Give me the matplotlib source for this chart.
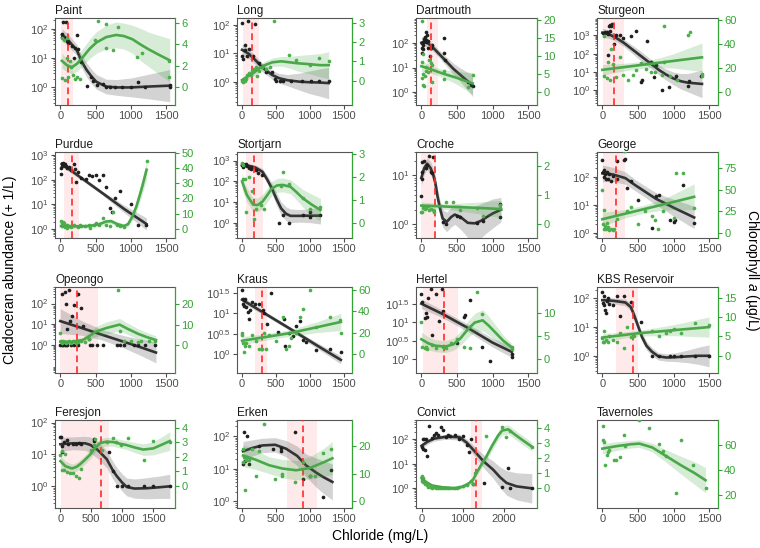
import numpy as np
import matplotlib
matplotlib.use('Agg')
import matplotlib.pyplot as plt
from matplotlib.ticker import FixedLocator, FixedFormatter, NullFormatter

plt.rcParams['font.family'] = ['Liberation Sans', 'DejaVu Sans']
plt.rcParams['mathtext.fontset'] = 'custom'
plt.rcParams['mathtext.rm'] = 'Liberation Sans'
plt.rcParams['mathtext.it'] = 'Liberation Sans:italic'

lakes = ['Paint', 'Long', 'Dartmouth', 'Sturgeon',
         'Purdue', 'Stortjarn', 'Croche', 'George',
         'Opeongo', 'Kraus', 'Hertel', 'KBS Reservoir',
         'Feresjon', 'Erken', 'Convict', 'Tavernoles']

# cladoceran abundance (+1/L) vs chloride (mg/L)
zoo_pts = {
    'Paint': [(25, 66), (45, 178), (80, 170), (30, 52), (70, 48), (95, 37), (115, 32), (233, 63), (210, 23),
              (163, 25), (250, 20), (200, 10), (280, 8), (300, 7.6), (380, 1.1), (430, 2.2), (470, 1.6), (520, 1.2),
              (600, 1.3), (650, 1.0), (700, 1.0), (780, 1.0), (880, 1.0), (1000, 1.0), (1100, 1.5), (1200, 1.0),
              (1550, 1.2), (1550, 1.0)],
    'Long': [(0, 120), (93, 140), (186, 110), (37, 20), (47, 13), (107, 14), (0, 8), (14, 6.5), (163, 8), (70, 8),
             (256, 4.4), (300, 3.6), (349, 2.2), (442, 2.2), (488, 1.2), (500, 1.05), (558, 1.1), (600, 1.1),
             (720, 1.1), (884, 1.1), (1023, 1.1), (1130, 1.1), (1280, 1.1)],
    'Dartmouth': [(5, 100), (10, 40), (15, 60), (20, 55), (25, 110), (30, 80), (40, 140), (50, 170), (60, 110),
                  (60, 270), (70, 130), (80, 200), (90, 120), (100, 60), (120, 30), (140, 60), (150, 80),
                  (320, 150), (320, 40), (330, 20), (650, 2.5), (700, 2.0), (720, 1.8)],
    'Sturgeon': [(13, 1350), (36, 1500), (59, 1500), (82, 1230), (96, 3100), (110, 3800), (114, 1740), (128, 3100),
                 (140, 4000), (160, 350), (196, 1000), (242, 1000), (289, 740), (73, 90), (404, 900), (473, 1660),
                 (625, 490), (542, 2.8), (556, 3.8), (680, 35), (726, 5.4), (749, 23), (841, 1.05), (943, 1.6),
                 (1040, 6.3), (1200, 1.8), (1222, 3.2), (1392, 6.3)],
    'Purdue': [(10, 290), (15, 170), (20, 350), (30, 450), (40, 500), (50, 420), (60, 380), (70, 450), (80, 350),
               (100, 300), (120, 320), (150, 250), (200, 420), (210, 280), (220, 80), (250, 200), (300, 120),
               (360, 110), (400, 150), (450, 140), (500, 160), (550, 100), (600, 160), (650, 50), (700, 7),
               (730, 5), (780, 18), (850, 35), (1000, 10), (1100, 1.5), (1220, 1.5)],
    'Stortjarn': [(5, 600), (20, 700), (20, 500), (40, 600), (60, 650), (80, 550), (100, 450), (130, 400),
                  (150, 500), (200, 350), (230, 250), (300, 200), (550, 1.0), (600, 2.5), (700, 1.0), (900, 2.5),
                  (1000, 2.0), (1000, 3.5), (1150, 2.5)],
    'Croche': [(0, 3.8), (5, 19), (10, 12), (15, 8.5), (40, 20), (60, 14), (80, 16), (110, 25), (130, 12),
               (150, 11), (170, 24), (300, 1.1), (350, 1.0), (500, 1.5), (550, 1.4), (780, 1.05), (870, 1.15),
               (1100, 2.6), (1100, 1.4)],
    'George': [(0, 400), (10, 150), (20, 170), (30, 100), (40, 130), (50, 80), (60, 150), (80, 80), (100, 130),
               (120, 70), (150, 110), (200, 80), (200, 350), (300, 400), (320, 420), (350, 40), (400, 70), (500, 15),
               (700, 1.5), (750, 20), (800, 22), (950, 3), (1000, 2.5), (1020, 3), (1130, 50), (1290, 2.2)],
    'Opeongo': [(20, 300), (60, 350), (120, 450), (80, 90), (100, 6), (140, 14), (170, 25), (200, 85), (250, 300),
                (300, 60), (320, 8), (400, 2), (0, 1), (20, 1), (40, 1), (60, 1), (80, 1), (100, 1), (150, 1),
                (200, 1), (250, 1), (420, 1), (450, 1), (520, 1), (600, 1), (800, 1), (850, 1), (900, 1), (1050, 1),
                (1100, 1), (1200, 1), (1340, 1)],
    'Kraus': [(0, 36), (9, 17), (14, 22), (23, 21), (30, 15), (47, 22), (60, 14), (93, 11), (107, 7.4), (120, 12),
              (140, 19), (186, 17), (247, 17), (302, 12), (326, 10), (372, 5.6), (433, 32), (535, 3.5), (619, 7.4),
              (637, 1.6), (700, 3.2), (750, 2.8), (800, 5), (850, 6.3), (900, 2.2), (950, 2), (1100, 1.26),
              (1300, 1.3), (1460, 1.12)],
    'Hertel': [(0, 56), (10, 35), (50, 12.6), (60, 17.8), (80, 14), (100, 45), (140, 79), (150, 4.5), (200, 56),
               (250, 11), (290, 79), (300, 20), (500, 2.8), (600, 14), (620, 16), (680, 40), (850, 2.2), (960, 0.9),
               (1270, 1.12), (1270, 1.4)],
    'KBS Reservoir': [(0, 170), (10, 70), (20, 120), (30, 60), (40, 40), (50, 30), (60, 80), (80, 100), (100, 65),
                      (150, 60), (200, 120), (250, 25), (300, 120), (400, 75), (550, 15), (700, 1), (800, 1),
                      (950, 1), (1000, 1), (1100, 1), (1300, 1), (1500, 1)],
    'Feresjon': [(0, 35), (10, 36), (20, 12), (30, 18), (60, 25), (100, 28), (130, 21), (200, 21), (250, 22),
                 (300, 23), (330, 22), (550, 30), (550, 27), (780, 12), (860, 3), (920, 1), (1000, 1), (1100, 1),
                 (1350, 1), (1500, 1), (1770, 1)],
    'Erken': [(20, 14), (30, 140), (50, 18), (80, 100), (100, 14), (250, 50), (450, 40), (580, 45), (580, 35),
              (780, 140), (900, 5), (1000, 6), (1200, 1.4), (1320, 9)],
    'Convict': [(20, 50), (30, 100), (40, 40), (60, 100), (80, 35), (100, 100), (130, 20), (187, 350), (260, 110),
                (300, 150), (350, 180), (400, 150), (470, 300), (512, 240), (600, 120), (650, 150), (700, 130),
                (800, 150), (900, 100), (1000, 130), (1100, 60), (1150, 30), (1200, 100), (1250, 1.5), (1500, 1.7),
                (1950, 1.1), (2080, 7), (2150, 1.0), (2660, 1.0)],
}

# smooth fit of abundance: chloride, log10 abundance, half width of band (log10)
zoo_fit = {
    'Paint': [(25, 1.8, 0.2), (100, 1.65, 0.2), (150, 1.5, 0.2), (233, 1.28, 0.2), (300, 0.9, 0.22),
              (372, 0.6, 0.24), (450, 0.35, 0.25), (512, 0.19, 0.25), (650, 0.03, 0.25), (800, 0.0, 0.27),
              (1000, 0.0, 0.32), (1250, 0.03, 0.42), (1550, 0.06, 0.55)],
    'Long': [(0, 1.12, 0.2), (100, 0.98, 0.18), (200, 0.75, 0.15), (300, 0.5, 0.15), (442, 0.24, 0.15),
             (550, 0.12, 0.17), (674, 0.05, 0.2), (850, 0.0, 0.3), (1000, -0.02, 0.4), (1150, -0.03, 0.48),
             (1280, -0.05, 0.55)],
    'Dartmouth': [(0, 2.0, 0.25), (60, 2.05, 0.2), (150, 1.85, 0.15), (250, 1.55, 0.15), (350, 1.25, 0.18),
                  (450, 0.95, 0.22), (550, 0.7, 0.28), (650, 0.45, 0.36), (720, 0.28, 0.45)],
    'Sturgeon': [(0, 3.15, 0.25), (100, 3.05, 0.22), (200, 2.85, 0.2), (300, 2.6, 0.2), (400, 2.3, 0.22),
                 (500, 2.0, 0.25), (600, 1.7, 0.25), (700, 1.4, 0.25), (800, 1.1, 0.27), (900, 0.85, 0.3),
                 (1000, 0.65, 0.35), (1100, 0.5, 0.42), (1200, 0.42, 0.5), (1400, 0.35, 0.75)],
    'Purdue': [(20, 2.65, 0.12), (300, 2.07, 0.08), (600, 1.45, 0.08), (900, 0.82, 0.15), (1220, 0.2, 0.25)],
    'Stortjarn': [(0, 2.78, 0.08), (100, 2.75, 0.1), (200, 2.66, 0.12), (302, 2.46, 0.15), (370, 2.1, 0.2),
                  (440, 1.67, 0.25), (510, 1.15, 0.3), (577, 0.71, 0.32), (650, 0.45, 0.33), (716, 0.35, 0.33),
                  (850, 0.35, 0.3), (1000, 0.36, 0.33), (1158, 0.36, 0.4)],
    'Croche': [(0, 0.95, 0.15), (40, 1.15, 0.13), (82, 1.24, 0.12), (130, 1.15, 0.13), (170, 1.0, 0.14),
               (196, 0.85, 0.15), (230, 0.55, 0.16), (265, 0.31, 0.17), (300, 0.12, 0.18), (356, 0.05, 0.2),
               (420, 0.15, 0.2), (470, 0.2, 0.2), (550, 0.15, 0.25), (653, 0.03, 0.3), (750, 0.02, 0.35),
               (836, 0.07, 0.35), (920, 0.15, 0.32), (1000, 0.22, 0.3), (1119, 0.3, 0.25)],
    'George': [(0, 2.12, 0.3), (150, 2.08, 0.25), (324, 1.95, 0.22), (450, 1.72, 0.2), (600, 1.47, 0.2),
               (750, 1.22, 0.22), (877, 1.06, 0.25), (1000, 0.9, 0.3), (1150, 0.72, 0.35), (1290, 0.55, 0.4)],
    'Opeongo': [(0, 1.15, 0.6), (300, 0.82, 0.35), (600, 0.48, 0.25), (900, 0.15, 0.3), (1150, -0.13, 0.4),
                (1355, -0.37, 0.5)],
    'Kraus': [(0, 1.33, 0.08), (300, 1.03, 0.05), (700, 0.63, 0.05), (1100, 0.22, 0.07), (1460, -0.14, 0.1)],
    'Hertel': [(0, 1.5, 0.13), (300, 1.22, 0.1), (650, 0.85, 0.1), (1000, 0.45, 0.12), (1270, 0.2, 0.15)],
    'KBS Reservoir': [(0, 1.94, 0.1), (150, 1.92, 0.1), (324, 1.86, 0.12), (400, 1.7, 0.13), (440, 1.46, 0.13),
                      (500, 1.05, 0.15), (556, 0.66, 0.15), (620, 0.35, 0.15), (694, 0.15, 0.14),
                      (787, -0.02, 0.13), (900, -0.06, 0.13), (1018, -0.05, 0.15), (1200, -0.02, 0.22),
                      (1350, 0.0, 0.3), (1500, 0.0, 0.38)],
    'Feresjon': [(0, 1.32, 0.22), (200, 1.35, 0.2), (400, 1.35, 0.22), (484, 1.3, 0.25), (600, 1.15, 0.27),
                 (752, 0.85, 0.27), (850, 0.5, 0.28), (914, 0.32, 0.27), (1000, 0.12, 0.27), (1075, -0.02, 0.28),
                 (1200, -0.07, 0.3), (1400, -0.06, 0.33), (1600, -0.03, 0.35), (1774, 0.0, 0.38)],
    'Erken': [(14, 1.54, 0.3), (150, 1.64, 0.25), (300, 1.72, 0.22), (488, 1.74, 0.22), (650, 1.62, 0.25),
              (814, 1.4, 0.3), (950, 1.1, 0.35), (1100, 0.88, 0.45), (1200, 0.75, 0.5), (1335, 0.6, 0.55)],
    'Convict': [(0, 1.73, 0.12), (150, 1.9, 0.1), (300, 2.02, 0.1), (593, 2.1, 0.1), (919, 2.08, 0.12),
                (1100, 1.85, 0.15), (1325, 1.43, 0.2), (1500, 1.1, 0.27), (1732, 0.76, 0.35), (1900, 0.45, 0.42),
                (2057, 0.22, 0.5), (2300, 0.08, 0.55), (2667, 0.0, 0.6)],
}

# chlorophyll a (ug/L) vs chloride
chl_pts = {
    'Paint': [(23, 4.55), (47, 4.4), (93, 4.55), (23, 0.85), (70, 0.7), (116, 0.95), (93, 2.7), (140, 2.4),
              (149, 1.9), (177, 1.15), (209, 0.75), (233, 1.0), (279, 0.75), (488, 4.4), (535, 6.1), (642, 5.9),
              (651, 3.6), (744, 3.47), (814, 5.55), (1093, 2.85), (1163, 3.16), (1535, 2.45), (1535, 1.0)],
    'Long': [(0, 0.0), (10, -0.05), (20, 0.05), (40, 0.1), (50, 0.0), (60, 0.1), (80, 0.3), (100, 0.4), (130, 0.3),
             (150, 0.5), (170, 0.6), (200, 0.7), (220, 0.25), (250, 0.5), (300, 0.7), (350, 0.6), (420, 0.7),
             (470, 3.1), (700, 1.35), (800, 1.05), (1000, 0.8), (1130, 1.15), (1280, 1.0)],
    'Dartmouth': [(10, 19.5), (5, 8.5), (10, 4), (20, 5), (20, 10.5), (30, 2), (40, 1.8), (50, 4.5), (60, 6),
                  (70, 7), (90, 5.5), (110, 9), (130, 8), (150, 2.8), (150, 7.5), (320, 6), (320, 3.8),
                  (650, 1.5), (720, 4.8)],
    'Sturgeon': [(24, 46.7), (26, 13.5), (69, 12), (128, 36), (150, 23), (82, 25), (105, 10), (198, 12.5),
                 (244, 29), (290, 14), (359, 10), (428, 14.5), (474, 18), (543, 24), (612, 19.6), (681, 17),
                 (741, 17), (843, 14.5), (866, 55.7), (866, 25.5), (944, 13), (1050, 10), (1202, 48),
                 (1225, 50), (1396, 13), (1396, 15)],
    'Purdue': [(10, 5), (20, 4), (30, 2), (40, 4.5), (50, 3.5), (60, 1), (70, 2.5), (80, 1.5), (90, 0.5),
               (100, 2.5), (120, 1.5), (150, 1), (200, 2.5), (250, 1), (280, 2.5), (300, 2), (350, 1.5),
               (400, 2.5), (420, 0.5), (480, 2.5), (500, 3.5), (550, 2.5), (600, 7), (650, 2.5), (700, 2),
               (750, 11), (800, 2.5), (850, 2), (900, 1), (1223, 45)],
    'Stortjarn': [(5, 2.6), (10, 1.9), (20, 2.5), (40, 1.9), (60, 0.5), (100, 2.0), (150, 1.4), (180, 0.2),
                  (200, 0.6), (280, 0.8), (330, 0.6), (570, 1.6), (600, 2.2), (700, 1.7), (900, 1.1),
                  (1000, 0.6), (1150, 0.7)],
    'Croche': [(0, 0.4), (10, 0.4), (20, 0.55), (30, 0.6), (50, 0.5), (60, 0.55), (90, 0.6), (110, 0.45),
               (130, 0.5), (160, 0.45), (180, 0.4), (340, 0.75), (450, 0.75), (550, 0.45), (780, 0.55),
               (870, 0.25), (1100, 0.65), (1100, 0.55)],
    'George': [(0, 50), (10, 10), (20, 5), (30, 27), (40, 8), (50, 5), (60, 12), (80, 7), (100, 3), (120, 5),
               (150, 3), (170, 5), (200, 16), (300, 95), (320, 95), (350, 25), (400, 30), (500, 10), (600, 25),
               (700, 20), (740, 15), (780, 5), (850, 25), (1000, 17), (1030, 70), (1130, 70), (1290, 29)],
    'Opeongo': [(0, 6), (10, 2), (20, 1), (40, 2), (60, 1.5), (80, 1), (100, 1.5), (120, 2), (150, 1), (180, 2),
                (220, 1), (250, 1.5), (300, 2), (350, 1.5), (400, 3), (820, 27), (840, 7), (900, 2), (1000, 2),
                (1100, 1.5), (1150, 2), (1250, 2), (1340, 2)],
    'Kraus': [(0, 18), (5, 20), (10, 10), (30, 2), (50, 8), (60, 10), (100, 8), (150, 18), (200, 12), (250, 5),
              (300, 5), (320, 20), (350, 5), (400, 18), (500, 12), (600, 35), (650, 5), (700, 8), (720, 15),
              (800, 20), (850, 35), (900, 42), (1000, 60), (1100, 25), (1300, 35), (1450, 32), (1460, 20)],
    'Hertel': [(0, 8), (10, 2.7), (50, 2.5), (60, 2.7), (80, 2.2), (150, 3), (200, 2.5), (300, 2.6), (350, 2.3),
               (420, 3.5), (500, 4.3), (600, 2.7), (680, 2.5), (780, 14.5), (850, 9.7), (1270, 2.6),
               (1270, 2.1)],
    'KBS Reservoir': [(0, 4.5), (5, 3.5), (20, 6.5), (30, 3.5), (50, 4), (80, 3.5), (100, 5), (150, 4),
                      (200, 3.5), (250, 6), (300, 2), (350, 7.5), (400, 4.8), (450, 5), (700, 6.3), (800, 5),
                      (900, 6), (950, 6.5), (1000, 7), (1100, 6), (1300, 8.5), (1500, 8)],
    'Feresjon': [(0, 2.1), (20, 1.1), (30, 2.4), (60, 1.05), (80, 2.2), (100, 0.95), (150, 0.9), (200, 0.9),
                 (250, 0.7), (300, 0.5), (330, 1.15), (500, 2.5), (550, 2.8), (560, 3.2), (680, 2.5), (750, 3.0),
                 (850, 3.3), (900, 3.0), (980, 2.8), (1100, 3.3), (1350, 1.8), (1500, 3.1), (1770, 3.0)],
    'Erken': [(10, 19), (20, 14), (30, 16), (50, 4), (60, 15), (80, 16), (100, 15), (150, 19), (200, 9),
              (250, 18), (330, 28), (480, 8), (590, 10), (590, 9), (780, 7), (900, 14), (1000, 9), (1080, 9),
              (1200, 17.5), (1320, 19)],
    'Convict': [(0, 0.8), (10, 0.6), (20, 0.5), (30, 0.7), (40, 0.4), (60, 0.5), (80, 0.3), (100, 0.35),
                (130, 0.2), (150, 0.1), (200, 0.1), (250, 0.05), (300, 0.1), (350, 0.0), (400, 0.05), (450, 0.0),
                (500, 0.05), (550, 0.0), (600, 0.05), (650, 0.0), (700, 0.05), (750, 0.0), (800, 0.05),
                (850, 0.0), (900, 0.1), (1000, 0.15), (1100, 0.2), (1200, 0.5), (1250, 0.3), (1300, 1.0),
                (1569, 3.5), (1950, 4.1), (2050, 3.4), (2150, 3.8), (2667, 2.75)],
    'Tavernoles': [(5, 75), (15, 64), (20, 62), (40, 44), (60, 52), (80, 54), (100, 56), (160, 48), (190, 48),
                   (250, 50), (300, 68), (320, 59), (520, 80), (660, 73), (800, 61), (850, 55), (900, 51),
                   (1030, 22), (1100, 64), (1270, 44), (1450, 26)],
}

# smooth fit of chlorophyll: chloride, chl a, half width of band
chl_fit = {
    'Paint': [(23, 2.45, 0.7), (93, 2.05, 0.6), (163, 1.85, 0.6), (240, 2.2, 0.7), (326, 2.85, 0.8),
              (420, 3.6, 0.9), (512, 4.15, 1.0), (650, 4.65, 1.1), (791, 4.85, 1.2), (900, 4.75, 1.2),
              (1023, 4.45, 1.3), (1140, 3.95, 1.5), (1256, 3.5, 1.6), (1400, 3.0, 1.8), (1550, 2.5, 2.0)],
    'Long': [(0, 0.03, 0.15), (80, 0.2, 0.15), (163, 0.38, 0.15), (250, 0.62, 0.17), (349, 0.82, 0.2),
             (450, 0.95, 0.22), (581, 1.0, 0.25), (700, 0.95, 0.3), (814, 0.9, 0.4), (1000, 0.85, 0.5),
             (1150, 0.8, 0.6), (1280, 0.8, 0.7)],
    'Dartmouth': [(0, 7.2, 1.5), (100, 6.6, 1.2), (200, 5.9, 1.0), (300, 5.2, 1.1), (400, 4.6, 1.4),
                  (500, 4.0, 1.8), (600, 3.3, 2.3), (720, 2.5, 3.0)],
    'Sturgeon': [(0, 18.5, 4.5), (200, 20, 3.5), (400, 21.5, 3), (600, 23, 3), (800, 24.5, 4), (1000, 26, 6),
                 (1200, 27.5, 9), (1400, 29, 12)],
    'Purdue': [(10, 1.8, 1.5), (200, 1.6, 1.2), (400, 1.8, 1.2), (550, 3, 1.3), (650, 4.8, 1.5), (720, 5, 1.6),
               (800, 3.2, 1.5), (900, 1.8, 1.5), (960, 3, 1.8), (1020, 8, 2.5), (1080, 15, 3.5), (1150, 26, 5),
               (1223, 39, 6.5)],
    'Stortjarn': [(0, 1.8, 0.35), (70, 1.22, 0.3), (163, 0.8, 0.3), (230, 0.78, 0.3), (302, 0.93, 0.3),
                  (370, 1.2, 0.3), (440, 1.5, 0.3), (520, 1.63, 0.3), (600, 1.65, 0.3), (716, 1.57, 0.3),
                  (800, 1.35, 0.33), (900, 1.07, 0.38), (1030, 0.8, 0.45), (1158, 0.57, 0.5)],
    'Croche': [(0, 0.62, 0.12), (400, 0.58, 0.1), (800, 0.54, 0.2), (1120, 0.5, 0.3)],
    'George': [(0, 16, 8), (300, 22, 5), (600, 28, 4.5), (900, 34, 7), (1290, 42, 15)],
    'Opeongo': [(0, 1.6, 1.2), (150, 1.5, 1.0), (318, 2.4, 1.3), (420, 4.5, 2), (500, 6.5, 2.5), (650, 8.3, 3),
                (840, 10, 3), (950, 8, 2.8), (1100, 5.5, 2.5), (1230, 3.8, 2.3), (1355, 2.4, 2)],
    'Kraus': [(0, 12.5, 4), (300, 15.5, 3), (700, 19.5, 3), (1100, 25, 5), (1460, 30, 8)],
    'Hertel': [(0, 4.3, 1.5), (100, 3.4, 1.4), (200, 2.9, 1.3), (335, 2.7, 1.3), (450, 3.2, 1.3), (550, 4.5, 1.5),
               (650, 6.4, 1.8), (750, 7.9, 2), (862, 8.4, 2.3), (950, 7.2, 2), (1050, 5.6, 1.6), (1150, 4.0, 1.2),
               (1270, 2.55, 0.8)],
    'KBS Reservoir': [(0, 4.7, 1), (500, 5.8, 0.7), (1000, 6.6, 1.4), (1500, 7.4, 2.6)],
    'Feresjon': [(0, 1.7, 0.4), (80, 1.35, 0.35), (188, 1.19, 0.3), (260, 1.3, 0.3), (323, 1.5, 0.3),
                 (400, 1.8, 0.3), (484, 2.16, 0.3), (560, 2.6, 0.3), (645, 2.95, 0.3), (750, 3.05, 0.3),
                 (860, 3.02, 0.3), (970, 2.9, 0.3), (1075, 2.81, 0.3), (1200, 2.65, 0.35), (1344, 2.5, 0.4),
                 (1505, 2.58, 0.45), (1650, 2.85, 0.55), (1774, 3.09, 0.65)],
    'Erken': [(14, 16.5, 4), (200, 15, 3.5), (400, 13, 3), (600, 11.8, 3.3), (800, 11.2, 3.5), (1000, 12, 4),
              (1200, 14, 5), (1335, 15.5, 6)],
    'Convict': [(0, 0.7, 0.15), (100, 0.45, 0.12), (250, 0.2, 0.1), (500, 0.08, 0.1), (800, 0.02, 0.1),
                (1000, 0.12, 0.12), (1150, 0.35, 0.15), (1250, 0.6, 0.18), (1325, 1.0, 0.2), (1450, 1.6, 0.25),
                (1569, 2.12, 0.28), (1700, 2.8, 0.3), (1850, 3.5, 0.3), (1950, 3.85, 0.3), (2098, 3.93, 0.3),
                (2250, 3.6, 0.3), (2450, 3.2, 0.3), (2667, 2.78, 0.3)],
    'Tavernoles': [(0, 57, 4), (200, 59, 3.5), (400, 60.5, 3), (520, 61, 3), (700, 58, 3.5), (900, 51, 5),
                   (1100, 44, 7), (1300, 37.5, 9), (1450, 32, 10)],
}

# chloride threshold: estimate, lower CI, upper CI
threshold = {
    'Paint': (116, 15, 180), 'Long': (140, 9, 246), 'Dartmouth': (141, 73, 228), 'Sturgeon': (157, 10, 300),
    'Purdue': (170, 55, 263), 'Stortjarn': (177, 56, 303), 'Croche': (187, 0, 205), 'George': (195, 3, 324),
    'Opeongo': (240, 0, 536), 'Kraus': (293, 186, 372), 'Hertel': (315, 27, 516), 'KBS Reservoir': (426, 195, 500),
    'Feresjon': (656, 16, 780), 'Erken': (900, 668, 1105), 'Convict': (1325, 1187, 1470),
}

# ---- axes layout -------------------------------------------------------
left_ylim = {'Paint': (-0.6, 2.37), 'Long': (-0.82, 2.24), 'Dartmouth': (-0.51, 3.0), 'Sturgeon': (-0.8, 3.95),
             'Purdue': (-0.37, 3.13), 'Stortjarn': (-0.71, 3.41), 'Croche': (-0.28, 1.48), 'George': (-0.18, 2.88),
             'Opeongo': (-1.36, 2.8), 'Kraus': (-0.46, 1.64), 'Hertel': (-0.37, 1.95), 'KBS Reservoir': (-0.6, 2.4),
             'Feresjon': (-0.68, 2.08), 'Erken': (-0.2, 2.5), 'Convict': (-0.8, 2.78)}
left_ticks = {'Sturgeon': [0, 1, 2, 3, 4], 'Purdue': [0, 1, 2, 3], 'Stortjarn': [0, 1, 2, 3], 'Croche': [0, 1],
              'Kraus': [0, 0.5, 1, 1.5], 'Hertel': [0, 0.5, 1, 1.5]}
right_ylim = {'Paint': (-1.64, 6.42), 'Long': (-1.27, 3.25), 'Dartmouth': (-3.45, 20.45), 'Sturgeon': (-11, 62),
              'Purdue': (-6.1, 50.7), 'Stortjarn': (-0.64, 3.07), 'Croche': (-0.5, 2.47), 'George': (-5.8, 94),
              'Opeongo': (-13.8, 28.5), 'Kraus': (-17.5, 62.5), 'Hertel': (-3, 15.6), 'KBS Reservoir': (-4.4, 17.7),
              'Feresjon': (-1.55, 4.55), 'Erken': (-2.4, 29.3), 'Convict': (-1.3, 4.55), 'Tavernoles': (10, 79.7)}
right_ticks = {'Paint': [0, 2, 4, 6], 'Long': [0, 1, 2, 3], 'Dartmouth': [0, 5, 10, 15, 20],
               'Sturgeon': [0, 20, 40, 60], 'Purdue': [0, 10, 20, 30, 40, 50], 'Stortjarn': [0, 1, 2, 3],
               'Croche': [0, 1, 2], 'George': [0, 25, 50, 75], 'Opeongo': [0, 10, 20], 'Kraus': [0, 20, 40, 60],
               'Hertel': [0, 5, 10], 'KBS Reservoir': [0, 5, 10, 15], 'Feresjon': [0, 1, 2, 3, 4],
               'Erken': [0, 10, 20], 'Convict': [0, 1, 2, 3, 4], 'Tavernoles': [20, 40, 60]}
xlims = {'Feresjon': (-88, 1858), 'Convict': (-133, 2793)}
xticks = {'Convict': [0, 1000, 2000]}

col_left = [55, 237, 416, 597]
col_w = [120, 115, 121, 121]
row_top = [18, 152, 287, 420]
row_h = [87, 86, 86, 88]

GREEN = '#33a333'
GRAY = '#4d4d4d'
W, H = 760, 548

fig = plt.figure(figsize=(7.6, 5.48), dpi=100)

for i, lake in enumerate(lakes):
    r, c = divmod(i, 4)
    ax = fig.add_axes([col_left[c] / W, 1 - (row_top[r] + row_h[r]) / H, col_w[c] / W, row_h[r] / H])
    ax.set_xlim(*xlims.get(lake, (-75, 1625)))
    ax.set_xticks(xticks.get(lake, [0, 500, 1000, 1500]))

    if lake in threshold:
        t, lo, hi = threshold[lake]
        ax.axvspan(lo, hi, color='#feeaea', lw=0, zorder=0)
        ax.axvline(t, color='#ff2a2a', ls=(0, (4, 2.5)), lw=1.2, zorder=6)

    if lake in zoo_pts:
        ax.set_yscale('log')
        fx, fy, fh = map(np.array, zip(*zoo_fit[lake]))
        ax.fill_between(fx, 10 ** (fy - fh), 10 ** (fy + fh), color='#8c8c8c', alpha=0.38, lw=0, zorder=2)
        ax.plot(fx, 10 ** fy, color='#333333', lw=1.9, zorder=3)
        px, py = zip(*zoo_pts[lake])
        ax.scatter(px, py, s=7, color='#1f1f1f', lw=0, zorder=4)
        lo, hi = left_ylim[lake]
        ax.set_ylim(10 ** lo, 10 ** hi)
        ticks = left_ticks.get(lake, [0, 1, 2])
        labels = ['$10^{%g}$' % e for e in ticks]
        ax.yaxis.set_major_locator(FixedLocator([10.0 ** e for e in ticks]))
        ax.yaxis.set_major_formatter(FixedFormatter(labels))
        if lake in ('Kraus', 'Hertel'):
            ax.yaxis.set_minor_locator(FixedLocator([]))
        else:
            minors = [k * 10.0 ** d for d in range(-2, 5) for k in range(2, 10)
                      if lo < np.log10(k * 10.0 ** d) < hi]
            ax.yaxis.set_minor_locator(FixedLocator(minors))
        ax.yaxis.set_minor_formatter(NullFormatter())
    else:
        ax.set_yticks([])

    ax.tick_params(axis='both', which='major', labelsize=8, colors=GRAY, length=3, width=0.8, pad=1.5)
    ax.tick_params(axis='y', which='minor', colors=GRAY, length=1.8, width=0.6)
    for s in ['left', 'bottom', 'top']:
        ax.spines[s].set_color('#555555')
        ax.spines[s].set_linewidth(0.8)
    ax.spines['right'].set_visible(False)
    ax.set_title(lake, loc='left', fontsize=8.5, color='#1a1a1a', pad=3)

    ax2 = ax.twinx()
    gx, gy, gh = map(np.array, zip(*chl_fit[lake]))
    ax2.fill_between(gx, gy - gh, gy + gh, color=GREEN, alpha=0.2, lw=0)
    ax2.plot(gx, gy, color='#4aa84a', lw=1.9)
    qx, qy = zip(*chl_pts[lake])
    ax2.scatter(qx, qy, s=7, color='#4caf4c', lw=0)
    ax2.set_ylim(*right_ylim[lake])
    ax2.set_yticks(right_ticks[lake])
    ax2.tick_params(axis='y', labelsize=8, colors=GREEN, length=3, width=0.8, pad=1.5)
    for s in ['left', 'bottom', 'top']:
        ax2.spines[s].set_visible(False)
    ax2.spines['right'].set_color(GREEN)
    ax2.spines['right'].set_linewidth(0.9)

fig.text(0.013, 0.507, 'Cladoceran abundance (+ 1/L)', rotation=90, ha='center', va='center', fontsize=10)
fig.text(0.99, 0.507, 'Chlorophyll $\\it{a}$ (µg/L)', rotation=270, ha='center', va='center', fontsize=10)
fig.text(0.5, 0.022, 'Chloride (mg/L)', ha='center', va='center', fontsize=10)

fig.savefig('out.png', dpi=100)
